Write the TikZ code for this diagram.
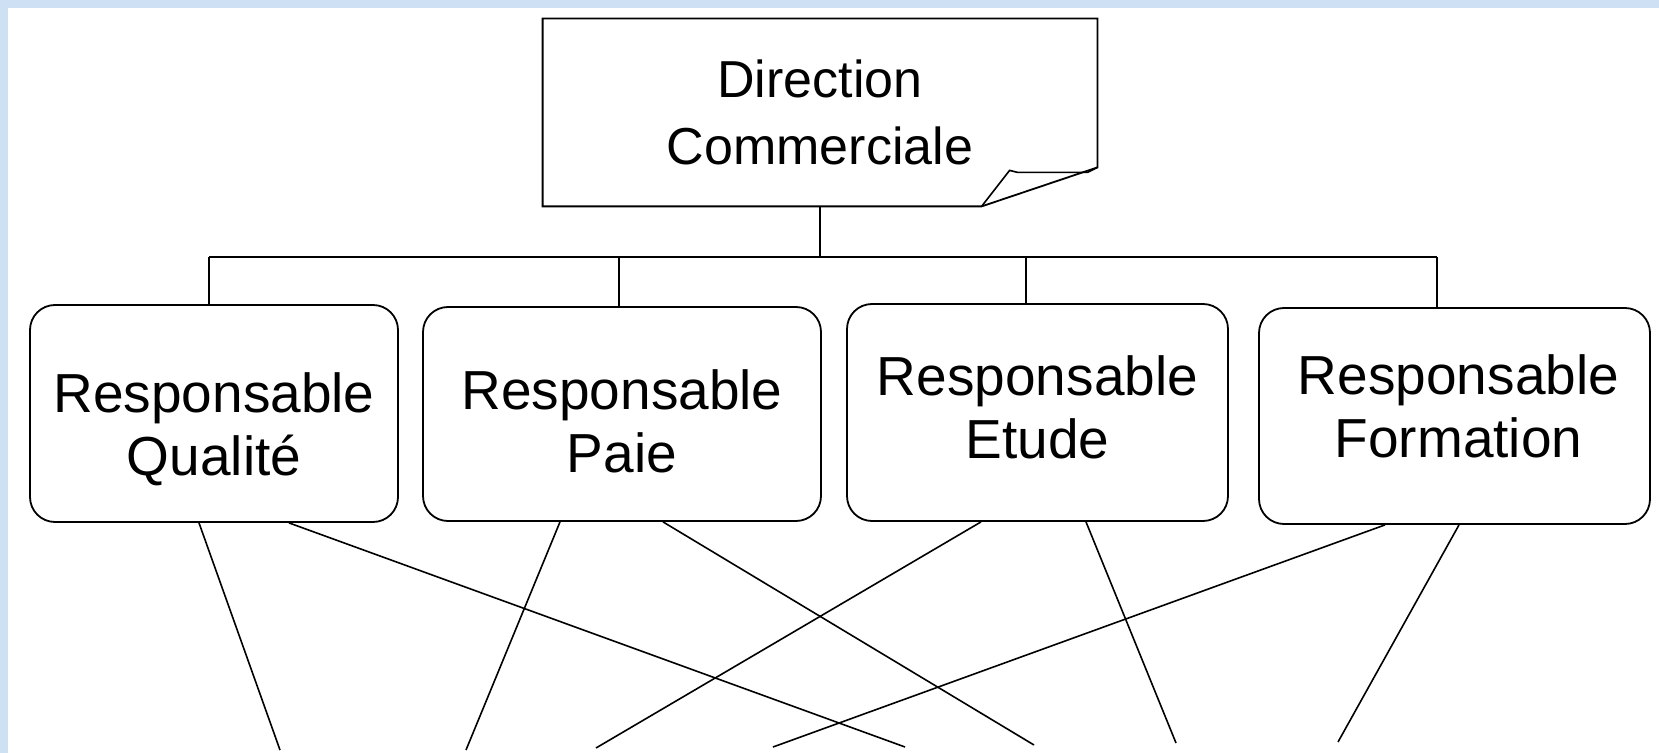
\documentclass[tikz,border=0pt]{standalone}
\usepackage{fontspec}
\setmainfont{Liberation Sans}
\usetikzlibrary{calc}
\definecolor{scanblue}{RGB}{205,224,244}

\begin{document}
\begin{tikzpicture}[
  x=0.5pt, y=-0.5pt,
  box/.style={draw, rounded corners=12.5pt, line width=0.9pt, inner sep=0pt},
  boxtext/.style={align=center, inner sep=0pt, font=\fontsize{27.5}{31.5}\selectfont},
  topbox/.style={align=center, inner sep=0pt, minimum width=277pt,
                 minimum height=93.5pt, font=\fontsize{26}{33.5}\selectfont},
  line/.style={line width=0.8pt}
]
\useasboundingbox (0,0) rectangle (1659,753);
\fill[scanblue] (0,0) rectangle (1659,8);
\fill[scanblue] (0,0) rectangle (8,753);

\node[topbox] (dir) at (820,112.5) {Direction\\Commerciale};
\draw[line, line width=0.9pt] (dir.south west) -- (dir.north west) -- (dir.north east)
  -- ($(dir.south east)+(0,-39)$) -- ($(dir.south west)+(439,0)$) -- cycle;
\draw[line] ($(dir.south west)+(439,0)$) -- ++(28,-36) -- ++(8,2) -- ++(70,0)
  -- ($(dir.south east)+(0,-39)$);

\node[box, minimum width=184pt, minimum height=108.5pt] (qual) at (214,413.5) {};
\node[box, minimum width=199pt, minimum height=107pt] (paie) at (622,414) {};
\node[box, minimum width=190.5pt, minimum height=108.5pt] (etude) at (1037.5,412.5) {};
\node[box, minimum width=195.5pt, minimum height=108pt] (form) at (1454.5,416) {};
\node[boxtext] (qualtxt) at ($(qual)+(0,16)$) {Responsable\\Qualité};
\node[boxtext] (paietxt) at ($(paie)+(0,7)$) {Responsable\\Paie};
\node[boxtext] (etudetxt) at ($(etude)+(0,-5)$) {Responsable\\Etude};
\node[boxtext] (formtxt) at ($(form)+(4,-10)$) {Responsable\\Formation};

\coordinate (s1) at (209,257);
\coordinate (s2) at (619,257);
\coordinate (s3) at (1026,257);
\coordinate (s4) at (1437,257);
\draw[line] (dir.south) -- (dir.south |- s1);
\draw[line] (s1) -- (s4);
\foreach \s/\b in {s1/qual, s2/paie, s3/etude, s4/form}
  \draw[line] (\s) -- (\s |- \b.north);

\foreach \b/\dx/\ex/\ey [count=\i] in {qual/-15/280/750, qual/75/905/747,
    paie/-62/466/750, paie/41/1034/745, etude/-56.5/596/748,
    etude/48.5/1176/743, form/-69.5/773/747, form/4.5/1338/742}{
  \coordinate (end\i) at (\ex,\ey);
  \draw[line] ($(\b.south)+(\dx,0)$) -- (end\i);
}
\end{tikzpicture}
\end{document}
